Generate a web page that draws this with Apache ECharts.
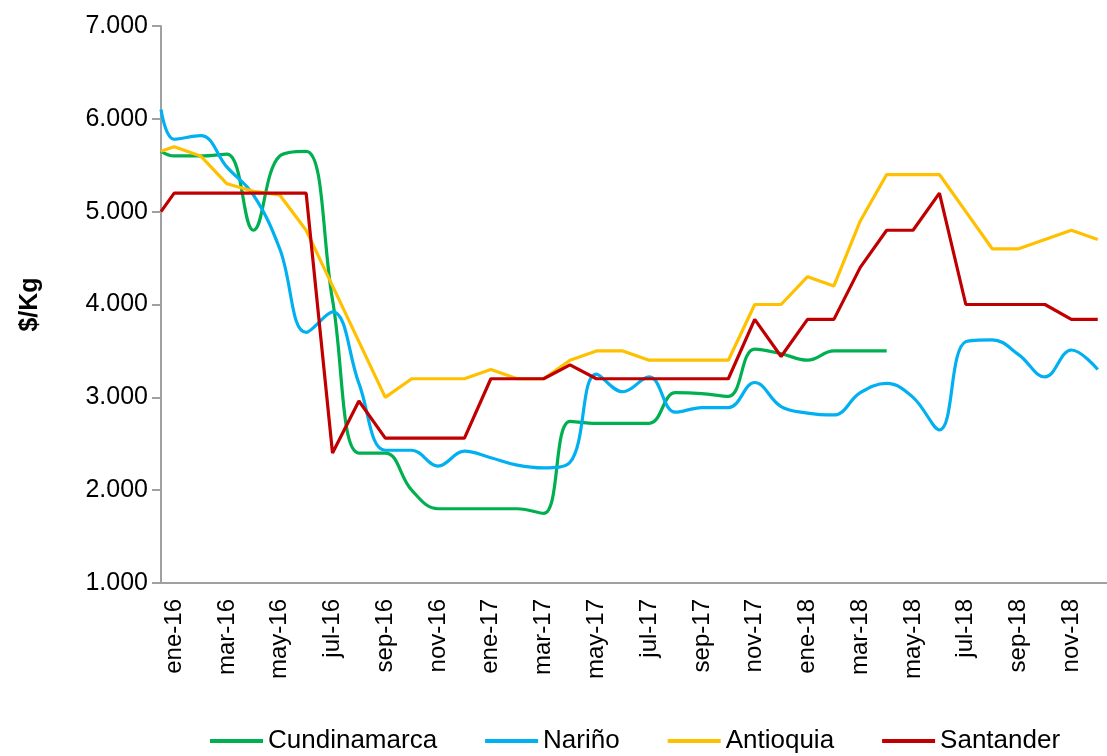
<!DOCTYPE html>
<html lang="es">
<head>
    <meta charset="UTF-8">
    <style>
    body {
        margin: 0;
        padding: 0;
        background-color: #ffffff;
    }

    #chart {
        width: 1107px;
        height: 756px;
    }
    </style>
    <script src="https://cdn.jsdelivr.net/npm/echarts@6.0.0/dist/echarts.min.js"></script>
</head>
<body>
    <div id="chart"></div>
    <script>
        // meses ene-16 .. dic-18
        const months = [
            'ene-16', 'feb-16', 'mar-16', 'abr-16', 'may-16', 'jun-16', 'jul-16', 'ago-16', 'sep-16', 'oct-16', 'nov-16', 'dic-16',
            'ene-17', 'feb-17', 'mar-17', 'abr-17', 'may-17', 'jun-17', 'jul-17', 'ago-17', 'sep-17', 'oct-17', 'nov-17', 'dic-17',
            'ene-18', 'feb-18', 'mar-18', 'abr-18', 'may-18', 'jun-18', 'jul-18', 'ago-18', 'sep-18', 'oct-18', 'nov-18', 'dic-18'
        ];

        // first value of each list sits on the y axis (half a month before ene-16)
        const cundinamarca = [5650,
            5600, 5600, 5620, 4800, 5600, 5650, 4050, 2400, 2400, 2000, 1800, 1800,
            1800, 1800, 1750, 2740, 2720, 2720, 2720, 3050, 3040, 3010, 3520, 3470,
            3400, 3500, 3500, 3500];
        const narino = [6100,
            5780, 5820, 5480, 5180, 4600, 3700, 3920, 3150, 2430, 2430, 2260, 2420,
            2350, 2270, 2240, 2300, 3250, 3060, 3220, 2840, 2890, 2890, 3160, 2900,
            2830, 2810, 3050, 3150, 3000, 2650, 3600, 3620, 3460, 3220, 3510, 3300];
        const antioquia = [5650,
            5700, 5600, 5300, 5220, 5180, 4800, 4200, 3600, 3000, 3200, 3200, 3200,
            3300, 3200, 3200, 3400, 3500, 3500, 3400, 3400, 3400, 3400, 4000, 4000,
            4300, 4200, 4900, 5400, 5400, 5400, 5000, 4600, 4600, 4700, 4800, 4700];
        const santander = [5000,
            5200, 5200, 5200, 5200, 5200, 5200, 2400, 2960, 2560, 2560, 2560, 2560,
            3200, 3200, 3200, 3350, 3200, 3200, 3200, 3200, 3200, 3200, 3840, 3440,
            3840, 3840, 4400, 4800, 4800, 5200, 4000, 4000, 4000, 4000, 3840, 3840];

        const yTicks = [1000, 2000, 3000, 4000, 5000, 6000, 7000];
        const labelMonths = months.map((m, i) => i).filter(i => i % 2 === 0);

        const font = "'Liberation Sans', Arial, sans-serif";

        // index 0 -> -0.5 (on the axis), index k -> month k-1
        function pts(arr) {
            return arr.map((v, i) => [i === 0 ? -0.5 : i - 1, v]);
        }

        function fmtMiles(v) {
            return String(v).replace(/\B(?=(\d{3})+(?!\d))/g, '.');
        }

        const chart = echarts.init(document.getElementById('chart'));

        chart.setOption({
            animation: false,
            textStyle: { fontFamily: font },
            grid: {
                left: 161,
                right: 0,
                top: 26,
                bottom: 173
            },
            legend: {
                top: 723,
                left: 205,
                icon: 'rect',
                itemWidth: 53,
                itemHeight: 4,
                itemGap: 48,
                textStyle: { fontSize: 26, color: '#000', fontFamily: font },
                data: ['Cundinamarca', 'Nariño', 'Antioquia', 'Santander']
            },
            xAxis: {
                type: 'value',
                min: -0.5,
                max: 35.35,
                splitLine: { show: false },
                axisTick: { show: false },
                axisLine: { onZero: false, lineStyle: { color: '#a0a0a0', width: 2 } },
                axisLabel: {
                    customValues: labelMonths,
                    rotate: 90,
                    margin: 16,
                    fontSize: 24,
                    color: '#000',
                    formatter: v => months[Math.round(v)] || ''
                }
            },
            yAxis: {
                type: 'value',
                min: yTicks[0],
                max: yTicks[yTicks.length - 1],
                interval: 1000,
                name: '$/Kg',
                nameLocation: 'middle',
                nameRotate: 90,
                nameGap: 118,
                nameTextStyle: { fontSize: 25, fontWeight: 'bold', color: '#000', fontFamily: font },
                splitLine: { show: false },
                axisLine: { show: true, onZero: false, lineStyle: { color: '#a0a0a0', width: 2 } },
                axisTick: { show: true, inside: false, length: 9, lineStyle: { color: '#a0a0a0', width: 2 } },
                axisLabel: {
                    fontSize: 25,
                    color: '#000',
                    margin: 13,
                    formatter: fmtMiles
                }
            },
            series: [
                {
                    name: 'Cundinamarca',
                    type: 'line',
                    smooth: 0.4,
                    showSymbol: false,
                    lineStyle: { width: 3.2, color: '#00b050' },
                    itemStyle: { color: '#00b050' },
                    data: pts(cundinamarca)
                },
                {
                    name: 'Nariño',
                    type: 'line',
                    smooth: 0.4,
                    showSymbol: false,
                    lineStyle: { width: 3.2, color: '#00b0f0' },
                    itemStyle: { color: '#00b0f0' },
                    data: pts(narino)
                },
                {
                    name: 'Antioquia',
                    type: 'line',
                    showSymbol: false,
                    lineStyle: { width: 3.2, color: '#ffc000' },
                    itemStyle: { color: '#ffc000' },
                    data: pts(antioquia)
                },
                {
                    name: 'Santander',
                    type: 'line',
                    showSymbol: false,
                    lineStyle: { width: 3.2, color: '#c00000' },
                    itemStyle: { color: '#c00000' },
                    data: pts(santander)
                }
            ]
        });
    </script>
</body>
</html>
